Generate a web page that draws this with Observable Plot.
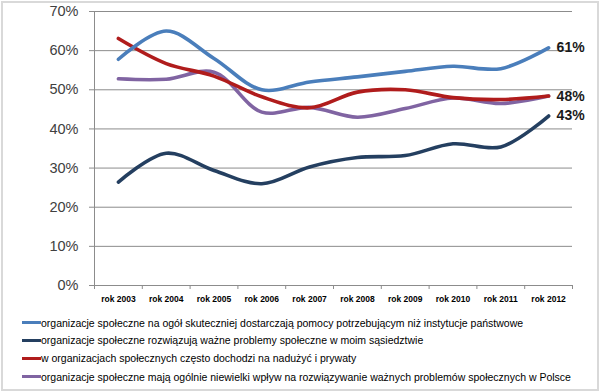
<!DOCTYPE html>
<html>
<head>
<meta charset="utf-8">
<script src="https://cdn.jsdelivr.net/npm/d3@7"></script>
<script src="https://cdn.jsdelivr.net/npm/@observablehq/plot@0.6"></script>
<style>
  body { margin: 0; background: #fff; }
  #wrap { position: relative; width: 600px; height: 392px; overflow: hidden; background: #fff; }
  #frame { position: absolute; left: 1px; top: 1px; width: 594px; height: 386px; border: 2px solid #d9d9d9; box-sizing: content-box; pointer-events: none; }
  #chart { position: absolute; left: 0; top: 0; }
  .leg { position: absolute; left: 22px; height: 14px; line-height: 14px; font-family: "Liberation Sans", Arial, sans-serif; font-size: 10.5px; color: #000; white-space: nowrap; }
  .leg span.sw { display: inline-block; width: 19px; height: 3px; vertical-align: middle; margin-right: 0px; position: relative; top: -1px; }
</style>
</head>
<body>
<div id="wrap">
  <div id="chart"></div>
  <div id="legend"></div>
  <div id="frame"></div>
</div>
<script>
const years = ["rok 2003","rok 2004","rok 2005","rok 2006","rok 2007","rok 2008","rok 2009","rok 2010","rok 2011","rok 2012"];
const seriesNames = [
  "organizacje społeczne na ogół skuteczniej dostarczają pomocy potrzebującym niż instytucje państwowe",
  "organizacje społeczne rozwiązują ważne problemy społeczne w moim sąsiedztwie",
  "w organizacjach społecznych często dochodzi na nadużyć i prywaty",
  "organizacje społeczne mają ogólnie niewielki wpływ na rozwiązywanie ważnych problemów społecznych w Polsce"
];
const seriesColors = ["#4a7ebb", "#243f60", "#b01c1c", "#8064a2"];
const blueValues   = [0.578, 0.650, 0.580, 0.500, 0.520, 0.533, 0.547, 0.560, 0.554, 0.607];
const navyValues   = [0.264, 0.338, 0.294, 0.260, 0.303, 0.327, 0.332, 0.362, 0.354, 0.433];
const redValues    = [0.631, 0.567, 0.535, 0.482, 0.454, 0.494, 0.500, 0.480, 0.475, 0.484];
const purpleValues = [0.528, 0.527, 0.545, 0.443, 0.455, 0.430, 0.452, 0.479, 0.465, 0.484];
const yTicks = [0, 0.1, 0.2, 0.3, 0.4, 0.5, 0.6, 0.7];
const endLabelSeries = [0, 1, 2]; // one "48%" label shared by red and purple

const allValues = [blueValues, navyValues, redValues, purpleValues];
const rows = [];
allValues.forEach((vals, s) => vals.forEach((v, i) => rows.push({s, i, v})));
const drawOrder = [1, 3, 2, 0]; // blue on top
const boundaries = years.map((_, i) => i - 0.5).concat([years.length - 0.5]);
const endRows = endLabelSeries.map(s => ({s, i: years.length - 1, v: allValues[s][years.length - 1]}));

const chart = Plot.plot({
  width: 600,
  height: 305,
  marginLeft: 94,
  marginRight: 28,
  marginTop: 11,
  marginBottom: 20,
  style: { fontFamily: "Liberation Sans, Arial, sans-serif", background: "transparent", overflow: "visible" },
  x: { type: "linear", domain: [-0.5, years.length - 0.5], label: null },
  y: { type: "linear", domain: [0, 0.7], label: null },
  marks: [
    Plot.ruleY(yTicks.filter(t => t > 0), { y: d => d, stroke: "#8c8c8c", strokeWidth: 1, strokeOpacity: 1 }),
    Plot.ruleX([-0.5], { x: d => d, y1: 0, y2: 0.7, stroke: "#8c8c8c", strokeWidth: 1 }),
    Plot.ruleY([0], { y: d => d, stroke: "#8c8c8c", strokeWidth: 1 }),
    Plot.ruleX(boundaries, { x: d => d, y1: 0, y2: 0, insetBottom: -4, stroke: "#8c8c8c", strokeWidth: 1 }),
    Plot.axisX(d3.range(years.length), {
      tickSize: 0, tickPadding: 10, tickFormat: i => years[i], label: null,
      fontSize: 8.5, fontWeight: "bold", fill: "#000", stroke: null
    }),
    Plot.axisY(yTicks, {
      tickSize: 5, tickPadding: 11, tickFormat: d => Math.round(d * 100) + "%", label: null,
      fontSize: 14.5, fill: "#404040", stroke: "#8c8c8c", strokeOpacity: 1
    }),
    ...drawOrder.map(s => Plot.line(rows.filter(r => r.s === s), {
      x: "i", y: "v", stroke: seriesColors[s], strokeWidth: 3.6, curve: "catmull-rom"
    })),
    Plot.text(endRows, {
      x: "i", y: "v", text: d => Math.round(d.v * 100) + "%", dx: 8,
      textAnchor: "start", fontSize: 14, fontWeight: "bold", fill: "#1a1a1a"
    })
  ]
});
document.getElementById("chart").appendChild(chart);

const legendTops = [322.5, 340, 358, 376.5];
const legend = document.getElementById("legend");
seriesNames.forEach((name, s) => {
  const div = document.createElement("div");
  div.className = "leg";
  div.style.top = (legendTops[s] - 7) + "px";
  const sw = document.createElement("span");
  sw.className = "sw";
  sw.style.background = seriesColors[s];
  div.appendChild(sw);
  div.appendChild(document.createTextNode(name));
  legend.appendChild(div);
});
</script>
</body>
</html>
